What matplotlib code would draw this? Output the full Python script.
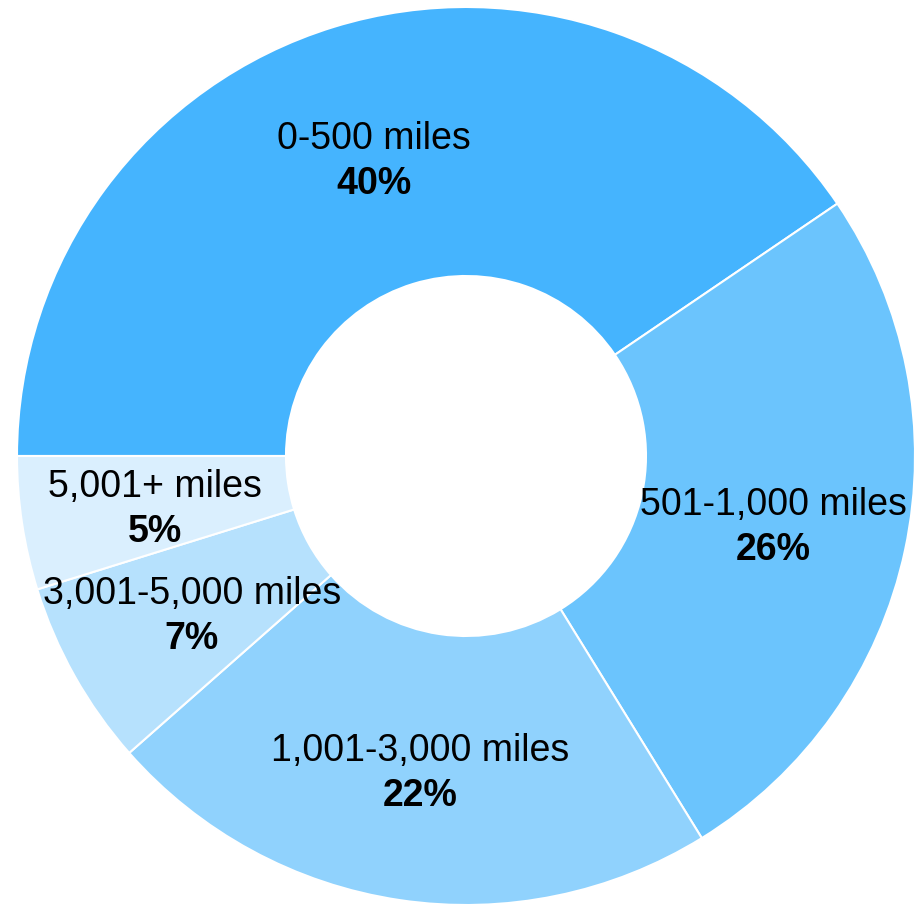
import numpy as np
import matplotlib.pyplot as plt

plt.rcParams['font.family'] = ['Liberation Sans', 'DejaVu Sans']

labels = ['0-500 miles', '501-1,000 miles', '1,001-3,000 miles', '3,001-5,000 miles', '5,001+ miles']
# slice sizes; labels show them rounded
shares = [40.5, 25.7, 22.3, 6.7, 4.8]
shown = [40, 26, 22, 7, 5]
colors = ['#45B4FE', '#6BC4FD', '#90D2FD', '#B6E1FD', '#DAEFFE']

W, H = 916, 907
fig = plt.figure(figsize=(W / 100, H / 100), dpi=100)
ax = fig.add_axes([0, 0, 1, 1])

cx, cy = 466, H - 456
R = 449
width = 269

wedges, _ = ax.pie(shares, colors=colors, startangle=180, counterclock=False,
                   center=(cx, cy), radius=R,
                   wedgeprops=dict(width=width, edgecolor='white', linewidth=1.5))

# labels at mid-ring
rmid = R - width / 2
for w, name, pct in zip(wedges, labels, shown):
    ang = np.deg2rad((w.theta1 + w.theta2) / 2)
    x = cx + rmid * np.cos(ang)
    y = cy + rmid * np.sin(ang) - 6
    ax.text(x, y + 22.5, name, ha='center', va='center', fontsize=27, color='black')
    ax.text(x, y - 22.5, f'{pct}%', ha='center', va='center', fontsize=27,
            fontweight='bold', color='black')

ax.set_xlim(0, W)
ax.set_ylim(0, H)
ax.set_aspect('equal')
ax.axis('off')

fig.savefig('out.png', dpi=100)
